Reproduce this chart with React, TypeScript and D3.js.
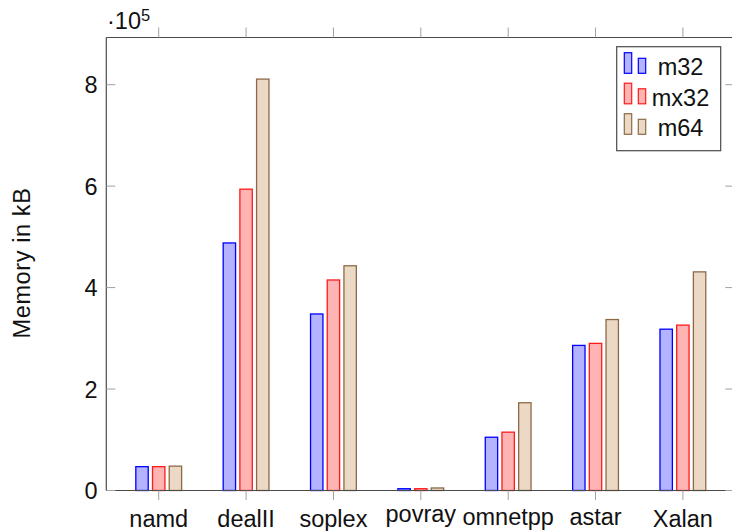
import React from "react";
import * as d3 from "d3";

const categories = ["namd", "dealII", "soplex", "povray", "omnetpp", "astar", "Xalan"];
const seriesNames = ["m32", "mx32", "m64"];
const m32 = [47000, 488000, 348000, 3500, 105000, 286000, 318000];
const mx32 = [47000, 594000, 415000, 3500, 115000, 290000, 326000];
const m64 = [48000, 811000, 443000, 5000, 173000, 337000, 431000];
const yTicks = [0, 200000, 400000, 600000, 800000];
const yTickLabels = ["0", "2", "4", "6", "8"];

const strokes = ["#0000ff", "#ff1a1a", "#8c6a48"];
const fills = ["#b3b3ff", "#ffb3b3", "#ebd9c6"];

const W = 732;
const H = 531;
const left = 106.3;
const right = 735.3;
const top = 37.5;
const bottom = 490.5;
const FONT = "'Liberation Sans', Arial, sans-serif";
const FS = 23.5;

function labelAscent(s: string): number {
  if (/[A-Zbdfhkl]/.test(s)) return 0.755;
  if (/t/.test(s)) return 0.64;
  return 0.52;
}

export default function App() {
  const series = [m32, mx32, m64];
  const x = d3.scalePoint<string>().domain(categories).range([left, right]).padding(0.6);
  const y = d3.scaleLinear().domain([0, 893000]).range([bottom, top]);
  const barW = 12.4;
  const offset = d3.scaleLinear().domain([0, 2]).range([-16.7, 16.7]);
  const axisCol = "#4a4a4a";
  const tickCol = "#a0a0a0";

  return (
    <svg width={W} height={H} style={{ position: "absolute", left: 0, top: 0 }} fontFamily={FONT}>
      <rect x={0} y={0} width={W} height={H} fill="#fff" />
      {/* bars */}
      {series.map((vals, si) =>
        vals.map((v, ci) => {
          const cx = (x(categories[ci]) as number) + offset(si);
          return (
            <rect
              key={`${si}-${ci}`}
              x={cx - barW / 2}
              y={y(v)}
              width={barW}
              height={bottom - y(v)}
              fill={fills[si]}
              stroke={strokes[si]}
              strokeWidth={1.3}
            />
          );
        })
      )}
      {/* frame */}
      <line x1={left} x2={right} y1={top} y2={top} stroke={axisCol} strokeWidth={1.2} />
      <line x1={left} x2={right} y1={bottom} y2={bottom} stroke={axisCol} strokeWidth={1.2} />
      <line x1={left} x2={left} y1={top} y2={bottom} stroke={axisCol} strokeWidth={1.2} />
      <line x1={right} x2={right} y1={top} y2={bottom} stroke={axisCol} strokeWidth={1.2} />
      {/* y ticks */}
      {yTicks.map((t, i) => (
        <g key={`yt${i}`}>
          <line x1={left} x2={left + 9} y1={y(t)} y2={y(t)} stroke={tickCol} strokeWidth={1} />
          <line x1={right - 10} x2={right} y1={y(t)} y2={y(t)} stroke={tickCol} strokeWidth={1} />
          <text x={97.5} y={y(t)} dy="0.36em" textAnchor="end" fontSize={FS} fill="#111">
            {yTickLabels[i]}
          </text>
        </g>
      ))}
      {/* x ticks */}
      {categories.map((c) => {
        const cx = x(c) as number;
        return (
          <g key={`xt${c}`}>
            <line x1={cx} x2={cx} y1={bottom} y2={bottom + 9.5} stroke={tickCol} strokeWidth={1} />
            <line x1={cx} x2={cx} y1={top} y2={top - 10} stroke={tickCol} strokeWidth={1} />
            <text x={cx} y={509.7 + labelAscent(c) * FS} textAnchor="middle" fontSize={FS} fill="#111">
              {c}
            </text>
          </g>
        );
      })}
      {/* scale factor */}
      <text x={107} y={29} fontSize={FS} fill="#111">
        ·10
        <tspan fontSize={16.5} dy={-8.5}>5</tspan>
      </text>
      {/* y label */}
      <text
        transform={`translate(30,263) rotate(-90)`}
        textAnchor="middle"
        fontSize={FS}
        fill="#111"
        letterSpacing={0.6}
      >
        Memory in kB
      </text>
      {/* legend */}
      <rect x={616.7} y={46.7} width={104} height={104} fill="#fff" stroke={axisCol} strokeWidth={1.2} />
      {seriesNames.map((n, i) => {
        const base = 73.3 + i * 30.5;
        return (
          <g key={`lg${n}`}>
            <rect x={624.3} y={base - 20.6} width={7.4} height={20.6} fill={fills[i]} stroke={strokes[i]} strokeWidth={1.2} />
            <rect x={638.3} y={base - 15} width={7.4} height={15} fill={fills[i]} stroke={strokes[i]} strokeWidth={1.2} />
            <text x={680.5} y={base + 1.7} textAnchor="middle" fontSize={FS} fill="#111">
              {n}
            </text>
          </g>
        );
      })}
    </svg>
  );
}
